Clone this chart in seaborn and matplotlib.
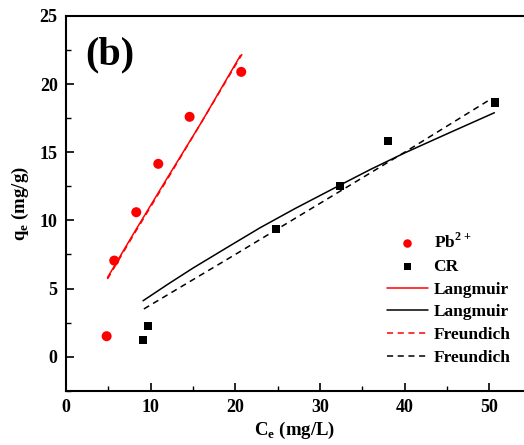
import numpy as np
import pandas as pd
import seaborn as sns
import matplotlib.pyplot as plt

# experimental points
pb_ce = [4.8, 5.7, 8.3, 10.9, 14.6, 20.7]
pb_qe = [1.5, 7.05, 10.6, 14.15, 17.6, 20.9]
cr_ce = [9.1, 9.7, 24.8, 32.4, 38.0, 50.7]
cr_qe = [1.2, 2.25, 9.4, 12.55, 15.85, 18.65]

# fitted curves
pb_lang_x = [4.9, 8.0, 12.0, 16.0, 20.6]
pb_lang_y = [5.8, 9.05, 13.15, 17.2, 22.1]
pb_freu_x = [4.9, 8.0, 12.0, 16.0, 20.8]
pb_freu_y = [5.7, 8.95, 13.05, 17.2, 22.2]
cr_lang_x = [9.1, 12.0, 15.0, 19.0, 22.9, 27.0, 32.4, 36.0, 40.0, 45.0, 50.6]
cr_lang_y = [4.1, 5.3, 6.5, 8.0, 9.45, 10.85, 12.6, 13.75, 14.95, 16.35, 17.9]
cr_freu_x = [9.2, 20.0, 30.0, 40.0, 50.3]
cr_freu_y = [3.5, 7.5, 11.25, 15.0, 18.95]

sns.set_theme(style="ticks")
plt.rcParams['font.family'] = ['Liberation Serif', 'DejaVu Serif']
plt.rcParams['font.weight'] = 'bold'
plt.rcParams['axes.labelweight'] = 'bold'
plt.rcParams['mathtext.fontset'] = 'custom'
plt.rcParams['mathtext.rm'] = 'Liberation Serif:bold'
plt.rcParams['mathtext.bf'] = 'Liberation Serif:bold'
for k in ['text.color', 'axes.labelcolor', 'xtick.color', 'ytick.color', 'axes.edgecolor']:
    plt.rcParams[k] = 'black'

fig = plt.figure(figsize=(5.24, 4.45), dpi=100)
ax = fig.add_axes([66/524, 1-390.7/445, 1-66/524, (390.7-16)/445])

sns.scatterplot(x=pb_ce, y=pb_qe, ax=ax, color='red', marker='o', s=52,
                edgecolor='none', label='Pb$^{2+}$')
sns.scatterplot(x=cr_ce, y=cr_qe, ax=ax, color='black', marker='s', s=34,
                edgecolor='none', label='CR')
sns.lineplot(x=pb_lang_x, y=pb_lang_y, ax=ax, color='red', lw=1.1, label='Langmuir')
sns.lineplot(x=cr_lang_x, y=cr_lang_y, ax=ax, color='black', lw=1.1, label='Langmuir')
sns.lineplot(x=pb_freu_x, y=pb_freu_y, ax=ax, color='red', lw=1.1,
             linestyle=(0, (4, 3)), label='Freundich')
sns.lineplot(x=cr_freu_x, y=cr_freu_y, ax=ax, color='black', lw=1.1,
             linestyle=(0, (4, 3)), label='Freundich')

ax.set_xlim(0, 54.1)
ax.set_ylim(-2.5, 25)
ax.set_xticks([0, 10, 20, 30, 40, 50])
ax.set_yticks([0, 5, 10, 15, 20, 25])
ax.set_xticks(np.arange(5, 55, 10), minor=True)
ax.set_yticks(np.arange(-2.5, 25, 5), minor=True)
ax.tick_params(which='major', direction='in', length=6, width=1.2, labelsize=13, pad=6)
ax.tick_params(which='minor', direction='in', length=3.5, width=1.0)
ax.spines['right'].set_visible(False)
for s in ['left', 'bottom', 'top']:
    ax.spines[s].set_linewidth(1.5)

ax.set_xlabel('C$_\\mathregular{e}$ (mg/L)', fontsize=13.5, labelpad=3)
ax.set_ylabel('q$_\\mathregular{e}$ (mg/g)', fontsize=13.5, labelpad=6)

ax.text(0.041, 0.896, '(b)', transform=ax.transAxes, fontsize=29, fontweight='bold',
        ha='left', va='center')

leg = ax.legend(loc='upper left', bbox_to_anchor=(0.685, 0.44), frameon=False,
                fontsize=12.5, handlelength=2.4, handletextpad=0.3,
                labelspacing=0.38, borderaxespad=0, markerscale=0.85)

fig.savefig('out.png', dpi=100)
